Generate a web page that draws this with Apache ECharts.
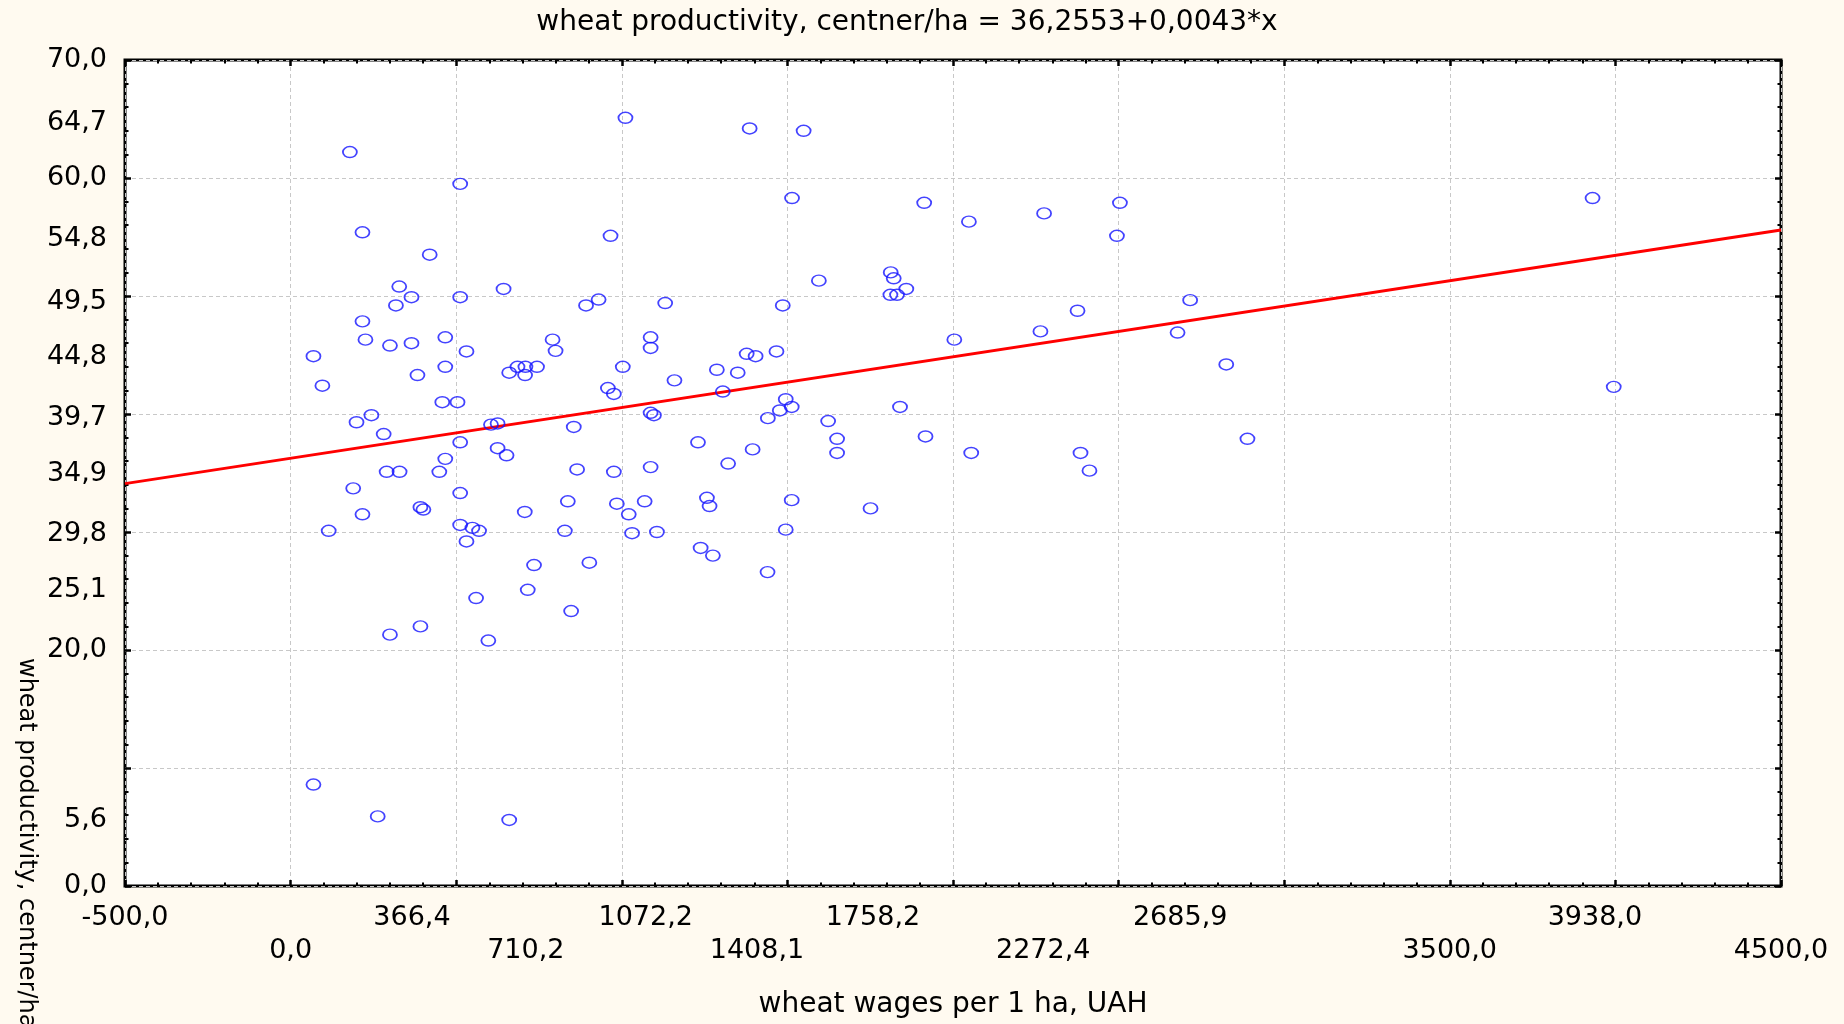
<!DOCTYPE html>
<html>
<head>
<meta charset="utf-8">
<title>wheat productivity</title>
<script src="https://cdn.jsdelivr.net/npm/echarts@6/dist/echarts.min.js"></script>
<style>
  html, body { margin: 0; padding: 0; background: #fffaf0; }
  #chart { width: 1844px; height: 1024px; }
</style>
</head>
<body>
<div id="chart"></div>
<script>
// wages per 1 ha (UAH) and productivity (centner/ha)
var wageX = [
	179, 512, 1011, 217, 420, 966, 328, 365, 318, 512, 643, 930, 892, 1131,
	217, 226, 300, 365, 467, 531, 69, 96, 383, 467, 791, 800, 660, 685, 709,
	708, 744, 1003, 1087, 1087, 958, 976, 458, 504, 244, 199, 1087, 1097, 605,
	625, 855,
	281, 512, 625, 652, 467, 290, 329, 449, 865, 976, 1087, 189, 512, 837,
	1069, 985, 1021, 217, 392, 401, 707, 115, 512, 549, 569, 531, 828, 1031,
	1106, 735, 902, 716, 560, 847, 392, 300, 597, 69, 263, 660,
	1386, 1549, 1514, 1913, 2048, 1595, 1812, 1821, 1859, 1811, 1831, 1486,
	2004, 1377, 1404, 1467, 1287, 1350, 1159, 1305, 1495, 1513, 1477, 1441,
	1623, 1840,
	1230, 1395, 1321, 1257, 1265, 1513, 1751, 1495, 1238, 1275, 1440, 1917,
	2055, 2385, 2412, 2889, 1650, 1650, 2264, 2678, 2825,
	2275, 2504, 2495, 2376, 2716, 3931, 3995
];
var yieldY = [
	62.2, 59.5, 65.1, 55.4, 53.5, 55.1, 50.8, 49.9, 49.2, 49.9, 50.6, 49.7, 49.2, 49.4,
	47.85, 46.3, 45.8, 46.0, 46.5, 45.3, 44.9, 42.4, 43.3, 44.0, 46.3, 45.35, 43.5, 44.0, 44.0,
	43.3, 44.0, 44.0, 46.5, 45.6, 42.2, 41.7, 41.0, 41.0, 39.9, 39.3, 40.1, 39.9, 39.1,
	39.2, 38.9,
	38.3, 37.6, 37.1, 36.5, 36.2, 35.1, 35.1, 35.1, 35.3, 35.1, 35.5, 33.7, 33.3, 32.6,
	32.6, 32.4, 31.5, 31.5, 32.1, 31.9, 31.7, 30.1, 30.6, 30.35, 30.1, 29.2, 30.1, 29.9,
	30.0, 27.2, 27.4, 25.1, 24.4, 23.3, 22.0, 21.3, 20.8, 8.6, 5.9, 5.6,
	64.2, 64.0, 58.3, 57.9, 56.3, 51.3, 52.0, 51.5, 50.6, 50.1, 50.1, 49.2,
	46.3, 45.1, 44.9, 45.3, 43.75, 43.5, 42.85, 41.9, 41.25, 40.6, 40.3, 39.65,
	39.4, 40.6,
	37.6, 37.0, 35.8, 32.9, 32.2, 32.7, 32.0, 30.2, 28.65, 28.0, 26.6, 38.1,
	36.7, 36.7, 35.2, 37.9, 37.9, 36.7, 47.0, 46.9, 44.2,
	57.0, 57.9, 55.1, 48.75, 49.65, 58.3, 42.3
];

// fitted line, ends read at the plot edges
var fitX = [-500, 4500];
var fitY = [34.1, 55.6];

// tick labels shown on the axes
var xLabelsTop = [-500, 366.4, 1072.2, 1758.2, 2685.9, 3938.0];
var xLabelsBottom = [0, 710.2, 1408.1, 2272.4, 3500, 4500];
var yLabels = [0, 5.6, 20, 25.1, 29.8, 34.9, 39.7, 44.8, 49.5, 54.8, 60, 64.7, 70];

var points = wageX.map(function (x, i) { return [x, yieldY[i]]; });
var fitLine = fitX.map(function (x, i) { return [x, fitY[i]]; });

var FONT = 'DejaVu Sans';
function commaFmt(v) { return Number(v).toFixed(1).replace('.', ','); }

function tickAxis(pos, isX, withGrid) {
	return {
		type: 'value',
		position: pos,
		min: isX ? -500 : 0,
		max: isX ? 4500 : 70,
		interval: isX ? 500 : 10,
		axisLine: {show: false, onZero: false},
		axisTick: {show: true, inside: true, length: 6, lineStyle: {color: '#000', width: 2.5}},
		minorTick: {show: true, splitNumber: 5, length: 3.5, lineStyle: {color: '#000', width: 2}},
		axisLabel: {show: false},
		splitLine: {show: withGrid, lineStyle: {color: '#c8c8c8', width: 1, type: [4, 3]}}
	};
}

function labelAxis(pos, isX, values, margin) {
	return {
		type: 'value',
		position: pos,
		offset: 0,
		min: isX ? -500 : 0,
		max: isX ? 4500 : 70,
		axisLine: {show: false, onZero: false},
		axisTick: {show: false},
		splitLine: {show: false},
		axisLabel: {
			show: true,
			customValues: values,
			margin: margin,
			formatter: commaFmt,
			fontFamily: FONT,
			fontSize: 27,
			color: '#000'
		}
	};
}

var chart = echarts.init(document.getElementById('chart'));

var xMain = tickAxis('bottom', true, true);
xMain.name = 'wheat wages per 1 ha, UAH';
xMain.nameLocation = 'middle';
xMain.nameGap = 105;
xMain.nameTextStyle = {fontFamily: FONT, fontSize: 28, color: '#000'};

var option = {
	backgroundColor: '#fffaf0',
	animation: false,
	title: {
		text: 'wheat productivity, centner/ha = 36,2553+0,0043*x',
		left: 907,
		top: 9,
		padding: 0,
		textAlign: 'center',
		textStyle: {fontFamily: FONT, fontSize: 28, fontWeight: 'normal', color: '#000'}
	},
	grid: {
		left: 125,
		right: 63,
		top: 60,
		bottom: 138,
		show: true,
		backgroundColor: '#ffffff',
		borderColor: '#000',
		borderWidth: 3,
		outerBoundsMode: 'none'
	},
	xAxis: [
		xMain,
		tickAxis('top', true, false),
		labelAxis('bottom', true, xLabelsTop, 18),
		labelAxis('bottom', true, xLabelsBottom, 51)
	],
	yAxis: [
		tickAxis('left', false, true),
		tickAxis('right', false, false),
		labelAxis('left', false, yLabels, 18)
	],
	graphic: [{
		type: 'text',
		x: 26,
		y: 658,
		rotation: -Math.PI / 2,
		style: {
			text: 'wheat productivity, centner/ha',
			fontFamily: FONT,
			fontSize: 24,
			fill: '#000',
			textAlign: 'left',
			textVerticalAlign: 'middle'
		}
	}],
	series: [
		{
			name: 'fit',
			type: 'line',
			xAxisIndex: 0,
			yAxisIndex: 0,
			data: fitLine,
			symbol: 'none',
			lineStyle: {color: '#ff0000', width: 3},
			z: 3
		},
		{
			name: 'farms',
			type: 'scatter',
			xAxisIndex: 0,
			yAxisIndex: 0,
			data: points,
			symbol: 'circle',
			symbolSize: [14, 11],
			itemStyle: {color: 'rgba(0,0,0,0)', borderColor: '#1414ff', borderWidth: 1.6},
			z: 4
		}
	]
};

chart.setOption(option);
</script>
</body>
</html>
